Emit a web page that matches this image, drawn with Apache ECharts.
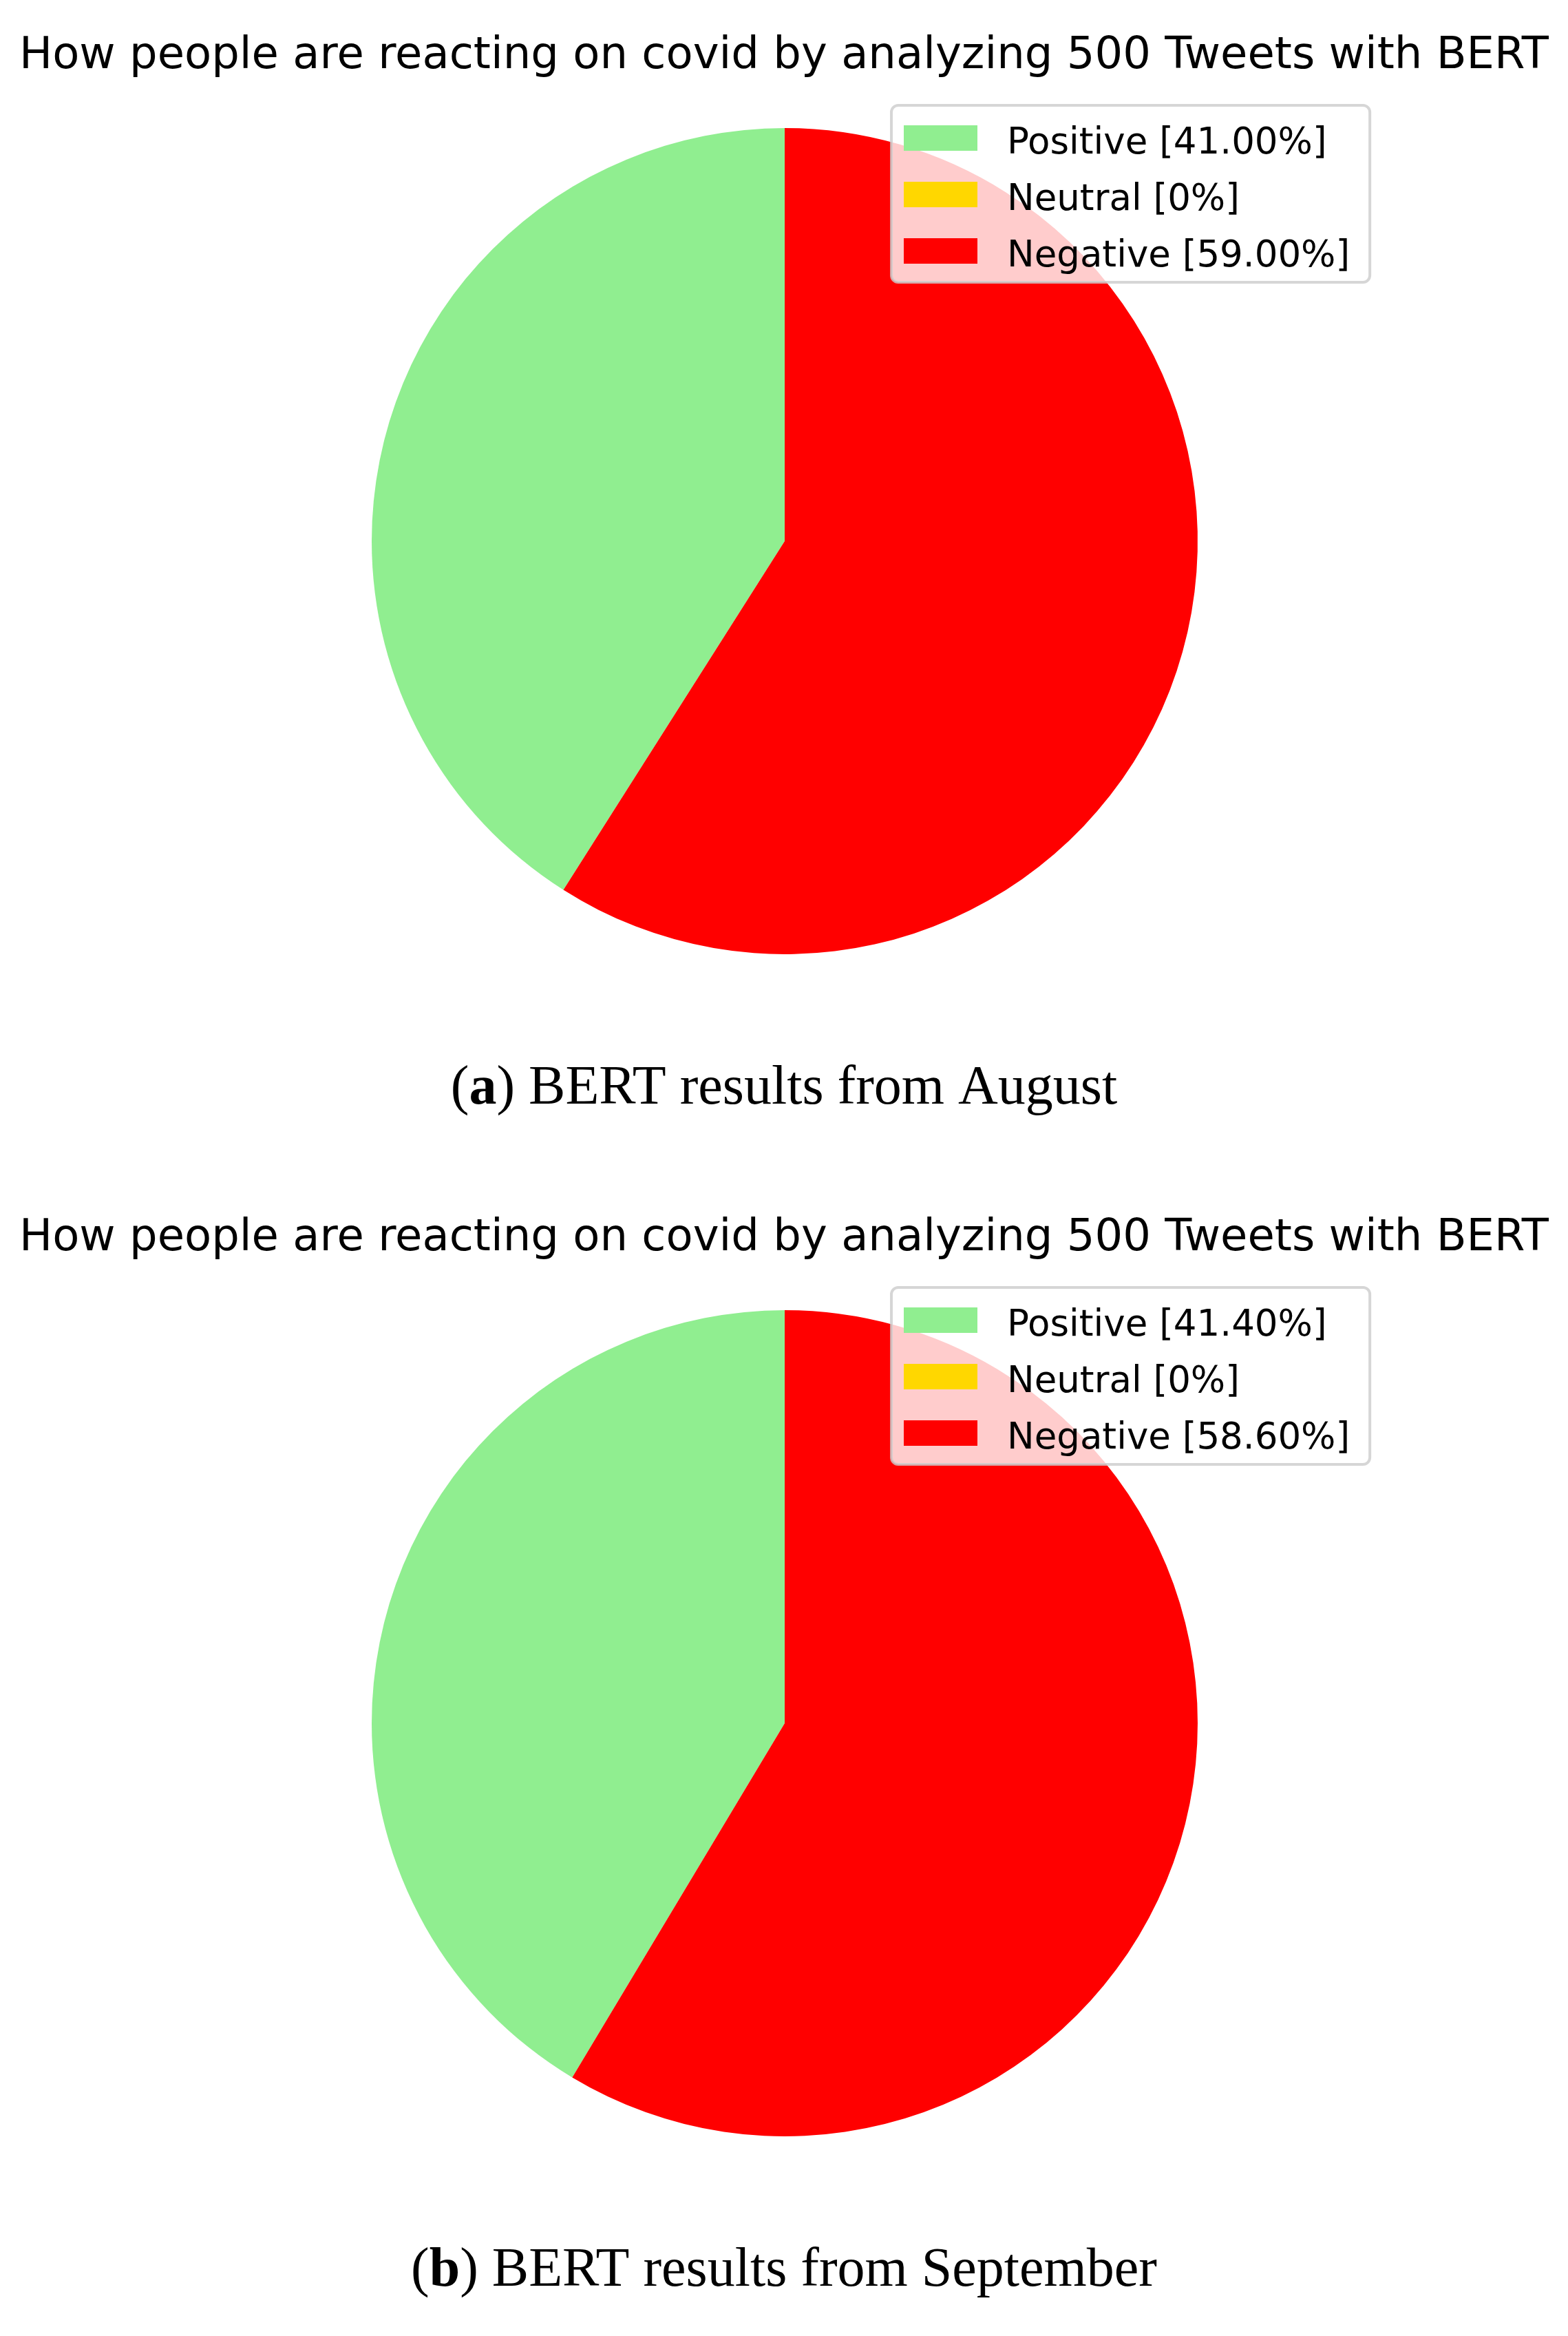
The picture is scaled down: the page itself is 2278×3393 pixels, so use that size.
<!DOCTYPE html>
<html>
<head>
<meta charset="utf-8">
<title>BERT covid tweets</title>
<script src="https://cdn.jsdelivr.net/npm/echarts@6/dist/echarts.min.js"></script>
<style>
    html, body { margin: 0; padding: 0; background: #fff; }
    #chart { width: 2278px; height: 3393px; }
</style>
</head>
<body>
<div id="chart"></div>
<script>
'use strict';

var categories = ['Positive', 'Neutral', 'Negative'],
    augustValues = [41.00, 0, 59.00],
    septemberValues = [41.40, 0, 58.60],
    augustTicks = ['41.00%', '0%', '59.00%'],
    septemberTicks = ['41.40%', '0%', '58.60%'],
    sliceColors = ['#90ee90', '#ffd700', '#ff0000'];

var chartTitle = 'How people are reacting on covid by analyzing 500 Tweets with BERT';
var captionTags = ['a', 'b'],
    captionTexts = ['BERT results from August', 'BERT results from September'];

// 两个面板的竖直间距
var panelStep = 1717;

function makeLabels(ticks) {
    return categories.map(function (c, i) {
        return c + ' [' + ticks[i] + ']';
    });
}

function makeData(values, labels) {
    return values.map(function (v, i) {
        return { name: labels[i], value: v, itemStyle: { color: sliceColors[i] } };
    });
}

var panels = [
    { labels: makeLabels(augustTicks), values: augustValues },
    { labels: makeLabels(septemberTicks), values: septemberValues }
];

var titles = [], legends = [], series = [];

panels.forEach(function (p, k) {
    var dy = k * panelStep;

    titles.push({
        text: chartTitle,
        left: 'center',
        top: 50 + dy,
        padding: 0,
        textStyle: {
            fontFamily: 'DejaVu Sans',
            fontWeight: 'normal',
            fontSize: 64,
            lineHeight: 64,
            color: '#000'
        }
    });

    titles.push({
        text: '{p|(}{b|' + captionTags[k] + '}{p|) ' + captionTexts[k] + '}',
        left: 'center',
        top: 1542 + dy,
        padding: 0,
        textStyle: {
            fontFamily: 'Liberation Serif',
            fontWeight: 'normal',
            fontSize: 80,
            rich: {
                p: { fontFamily: 'Liberation Serif', fontWeight: 'normal', fontSize: 80, lineHeight: 80, color: '#000' },
                b: { fontFamily: 'Liberation Serif', fontWeight: 'bold', fontSize: 80, lineHeight: 80, color: '#000' }
            }
        }
    });

    legends.push({
        data: p.labels,
        orient: 'vertical',
        left: 1295,
        top: 153 + dy,
        padding: [12, 29, 10, 18],
        itemWidth: 107,
        itemHeight: 37,
        itemGap: 11,
        icon: 'rect',
        selectedMode: false,
        backgroundColor: 'rgba(255,255,255,0.8)',
        borderColor: 'rgba(204,204,204,0.8)',
        borderWidth: 4,
        borderRadius: 10,
        formatter: '{t|{name}}',
        textStyle: {
            rich: {
                t: {
                    fontFamily: 'DejaVu Sans',
                    fontSize: 53,
                    lineHeight: 37,
                    padding: [18, 0, 0, 38],
                    color: '#000'
                }
            }
        }
    });

    series.push({
        type: 'pie',
        center: [1140, 786 + dy],
        radius: 600,
        startAngle: 90,
        clockwise: false,
        animation: false,
        silent: true,
        label: { show: false },
        labelLine: { show: false },
        emphasis: { disabled: true },
        data: makeData(p.values, p.labels)
    });
});

var chart = echarts.init(document.getElementById('chart'));

var option = {
    backgroundColor: '#fff',
    animation: false,
    title: titles,
    legend: legends,
    series: series
};

chart.setOption(option);
</script>
</body>
</html>
